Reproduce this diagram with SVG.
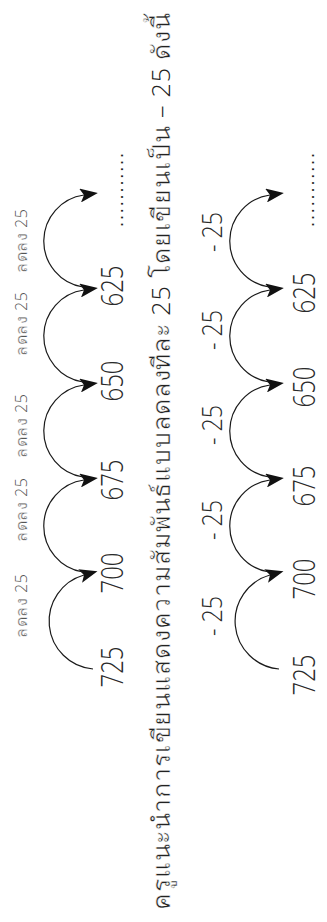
<svg xmlns="http://www.w3.org/2000/svg" width="327" height="922" viewBox="0 0 327 922">
<style>
.bg{fill:#ffffff}
.arc{fill:none;stroke:#1a1a1a;stroke-width:1.2;marker-end:url(#ah)}
.num{font-family:"Open Sans","Liberation Sans",sans-serif;font-weight:300;font-size:32px;fill:#2a2a2a;text-anchor:middle}
.lab1{font-family:"Open Sans","Liberation Sans",sans-serif;font-weight:300;font-size:16px;fill:#555;text-anchor:middle}
.lab2{font-family:"Open Sans","Liberation Sans",sans-serif;font-weight:300;font-size:28px;fill:#2a2a2a;text-anchor:middle}
.dots{font-family:"Liberation Sans",sans-serif;font-size:18px;fill:#222;text-anchor:middle}
.title{font-family:"Open Sans","Liberation Sans",sans-serif;font-weight:300;font-size:25px;fill:#222}
.th{stroke:#fff;stroke-width:0.5}
.thl{stroke:#fff;stroke-width:0.35}
</style>
<defs>
<marker id="ah" markerUnits="userSpaceOnUse" viewBox="0 0 18 14" markerWidth="18" markerHeight="14" refX="4" refY="7" orient="auto">
<path d="M0,0 L18,7 L0,14 L4,7 Z" fill="#111"/>
</marker>
</defs>
<rect class="bg" x="0" y="0" width="327" height="922"/>
<g id="connectors">
<path class="arc" d="M93,669 A48,48 0 0 1 84,575"/>
<path class="arc" d="M83,572 A46.5,46.5 0 0 1 84,480"/>
<path class="arc" d="M83,477 A46.5,46.5 0 0 1 84,385"/>
<path class="arc" d="M83,382 A46.5,46.5 0 0 1 84,290"/>
<path class="arc" d="M83,287 A46.5,46.5 0 0 1 84,195"/>
<path class="arc" d="M279,669 A48,48 0 0 1 270,575"/>
<path class="arc" d="M269,572 A46.5,46.5 0 0 1 270,480"/>
<path class="arc" d="M269,477 A46.5,46.5 0 0 1 270,385"/>
<path class="arc" d="M269,382 A46.5,46.5 0 0 1 270,290"/>
<path class="arc" d="M269,287 A46.5,46.5 0 0 1 270,195"/>
</g>
<g id="row1-numbers">
<g id="n1-725"><text class="num" transform="translate(123,667) rotate(-90)" textLength="41" lengthAdjust="spacingAndGlyphs">725</text></g>
<g id="n1-700"><text class="num" transform="translate(123,573) rotate(-90)" textLength="41" lengthAdjust="spacingAndGlyphs">700</text></g>
<g id="n1-675"><text class="num" transform="translate(123,480) rotate(-90)" textLength="41" lengthAdjust="spacingAndGlyphs">675</text></g>
<g id="n1-650"><text class="num" transform="translate(123,381) rotate(-90)" textLength="41" lengthAdjust="spacingAndGlyphs">650</text></g>
<g id="n1-625"><text class="num" transform="translate(123,286) rotate(-90)" textLength="41" lengthAdjust="spacingAndGlyphs">625</text></g>
<g id="n1-dots"><text class="dots" transform="translate(123,190) rotate(-90)" textLength="74" lengthAdjust="spacing">...........</text></g>
</g>
<g id="row1-labels">
<g id="l1-1"><text class="lab1" transform="translate(27,241) rotate(-90)" textLength="64" lengthAdjust="spacing"><tspan class="thl">ลดลง</tspan> 25</text></g>
<g id="l1-2"><text class="lab1" transform="translate(27,324) rotate(-90)" textLength="64" lengthAdjust="spacing"><tspan class="thl">ลดลง</tspan> 25</text></g>
<g id="l1-3"><text class="lab1" transform="translate(27,426) rotate(-90)" textLength="64" lengthAdjust="spacing"><tspan class="thl">ลดลง</tspan> 25</text></g>
<g id="l1-4"><text class="lab1" transform="translate(27,510) rotate(-90)" textLength="64" lengthAdjust="spacing"><tspan class="thl">ลดลง</tspan> 25</text></g>
<g id="l1-5"><text class="lab1" transform="translate(27,606) rotate(-90)" textLength="64" lengthAdjust="spacing"><tspan class="thl">ลดลง</tspan> 25</text></g>
</g>
<g id="title">
<text class="title" transform="translate(170,910) rotate(-90)" textLength="897" lengthAdjust="spacing"><tspan class="th">ครูแนะนำการเขียนแสดงความสัมพันธ์แบบลดลงทีละ</tspan> 25 <tspan class="th">โดยเขียนเป็น</tspan> – 25 <tspan class="th">ดังนี้</tspan></text>
</g>
<g id="row2-labels">
<g id="l2-1"><text class="lab2" transform="translate(222,232) rotate(-90)" textLength="40" lengthAdjust="spacingAndGlyphs">- 25</text></g>
<g id="l2-2"><text class="lab2" transform="translate(222,330) rotate(-90)" textLength="40" lengthAdjust="spacingAndGlyphs">- 25</text></g>
<g id="l2-3"><text class="lab2" transform="translate(222,425) rotate(-90)" textLength="40" lengthAdjust="spacingAndGlyphs">- 25</text></g>
<g id="l2-4"><text class="lab2" transform="translate(222,520) rotate(-90)" textLength="40" lengthAdjust="spacingAndGlyphs">- 25</text></g>
<g id="l2-5"><text class="lab2" transform="translate(222,616) rotate(-90)" textLength="40" lengthAdjust="spacingAndGlyphs">- 25</text></g>
</g>
<g id="row2-numbers">
<g id="n2-725"><text class="num" transform="translate(315,675) rotate(-90)" textLength="41" lengthAdjust="spacingAndGlyphs">725</text></g>
<g id="n2-700"><text class="num" transform="translate(315,579) rotate(-90)" textLength="41" lengthAdjust="spacingAndGlyphs">700</text></g>
<g id="n2-675"><text class="num" transform="translate(315,486) rotate(-90)" textLength="41" lengthAdjust="spacingAndGlyphs">675</text></g>
<g id="n2-650"><text class="num" transform="translate(315,387) rotate(-90)" textLength="41" lengthAdjust="spacingAndGlyphs">650</text></g>
<g id="n2-625"><text class="num" transform="translate(315,293) rotate(-90)" textLength="41" lengthAdjust="spacingAndGlyphs">625</text></g>
<g id="n2-dots"><text class="dots" transform="translate(314,190) rotate(-90)" textLength="74" lengthAdjust="spacing">...........</text></g>
</g>
</svg>
